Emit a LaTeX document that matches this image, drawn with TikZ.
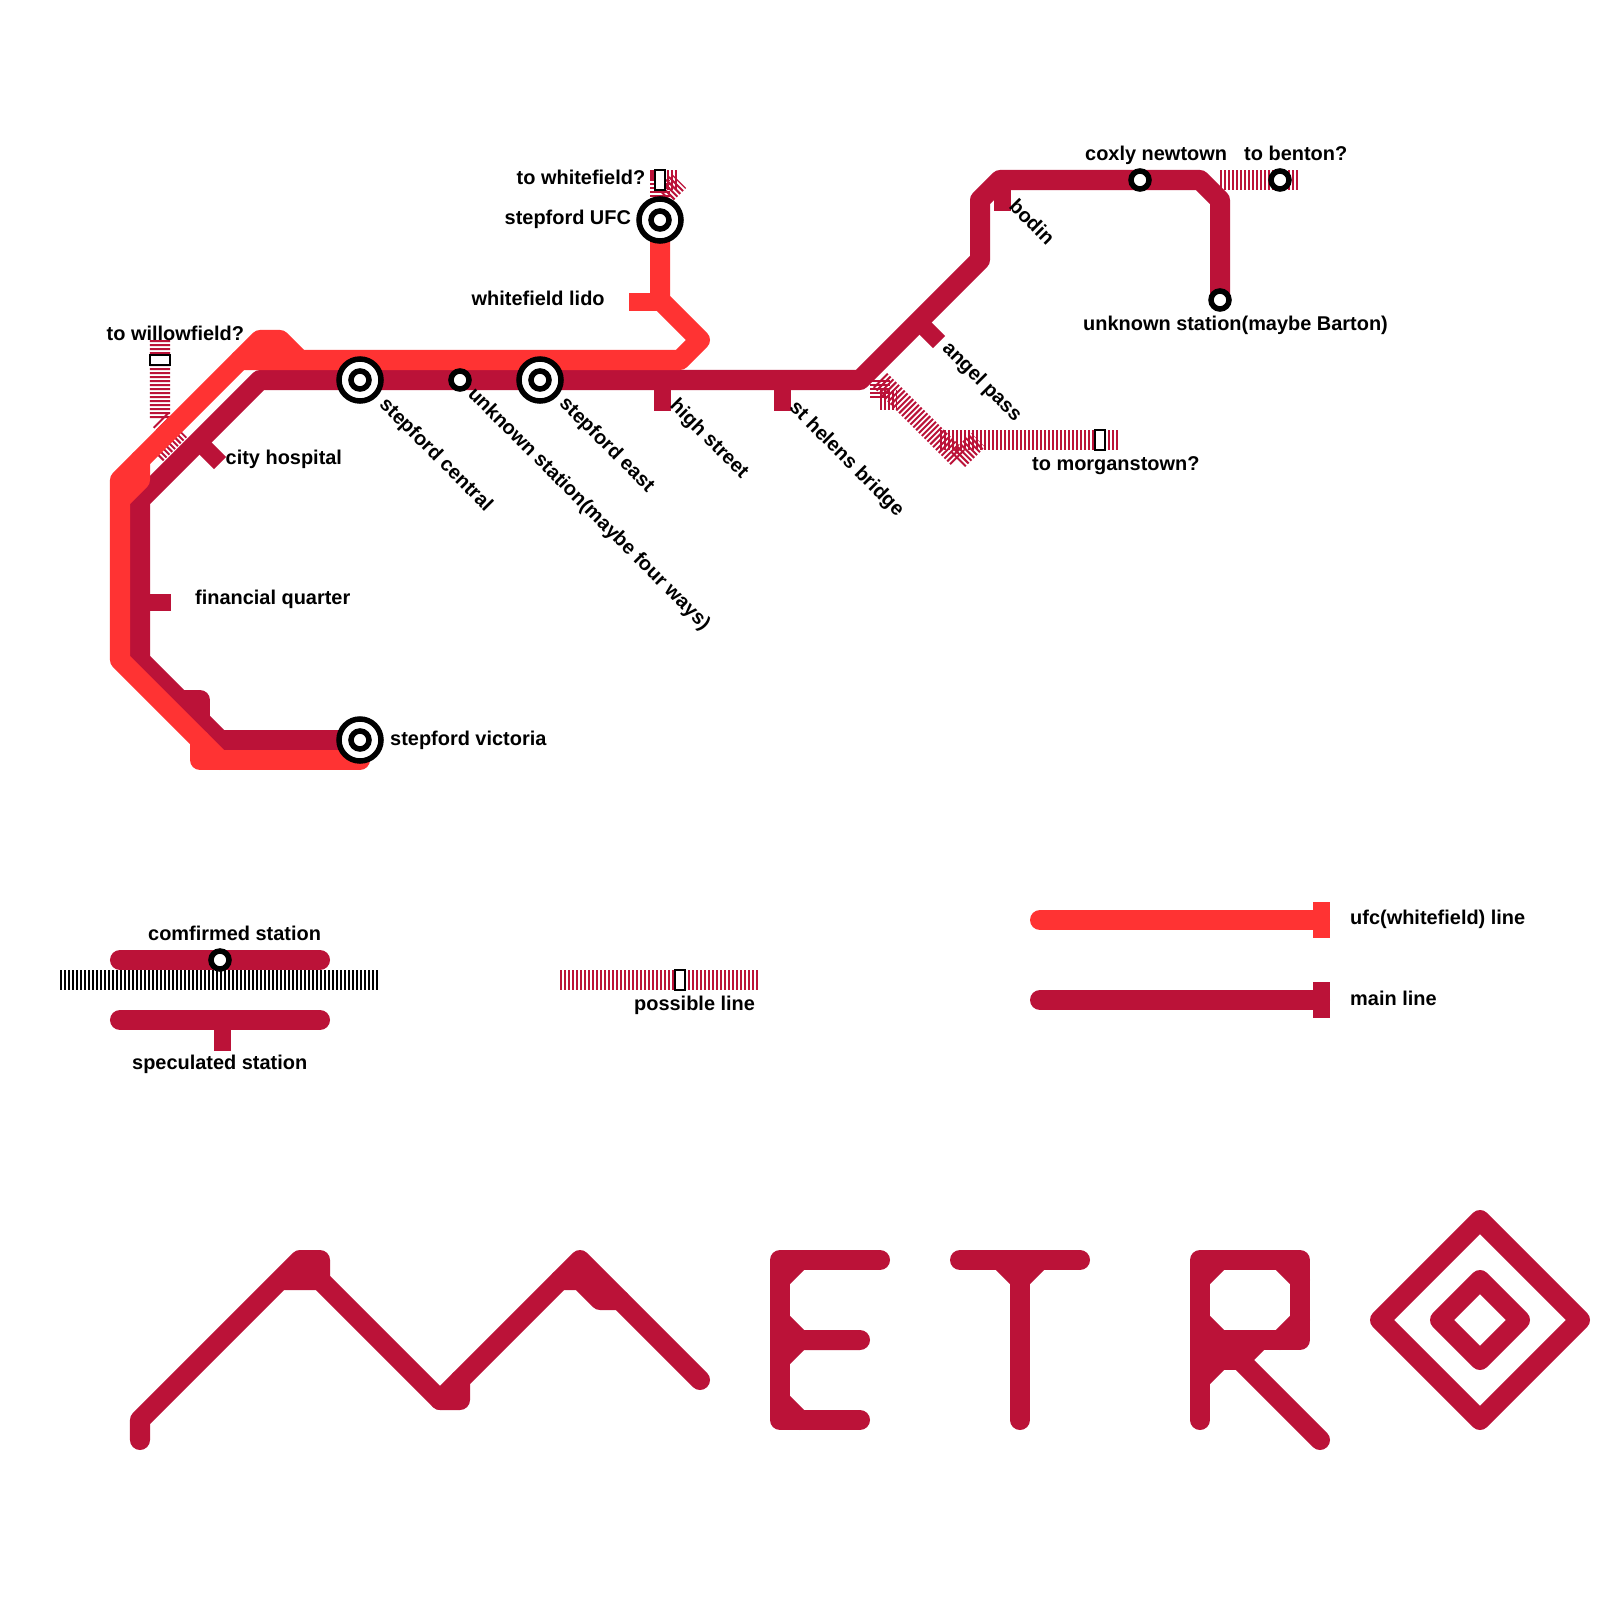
\documentclass[tikz,border=0pt]{standalone}
\usepackage{fontspec}
\setmainfont{Liberation Sans}
\usepackage{tikz}
\usetikzlibrary{positioning}
\definecolor{mainred}{RGB}{187,18,56}
\definecolor{ufcred}{RGB}{255,51,51}
\tikzset{
  mainline/.style={draw=mainred,line width=0.2cm,line join=round,line cap=round},
  ufcline/.style={draw=ufcred,line width=0.2cm,line join=round,line cap=round},
  stub/.style={draw=mainred,line width=0.17cm},
  possible/.style={draw=mainred,line width=0.2cm,dash pattern=on 0.02cm off 0.02cm},
  lbl/.style={anchor=base west,inner sep=0pt,font=\bfseries\fontsize{5.67pt}{7pt}\selectfont},
  dlbl/.style={lbl,rotate=-45},
  bigstation/.style={circle,draw=black,line width=0.055cm,fill=white,minimum size=0.42cm,inner sep=0pt},
  bigcore/.style={circle,draw=black,line width=0.055cm,fill=white,minimum size=0.18cm,inner sep=0pt},
  smallstation/.style={circle,draw=black,line width=0.055cm,fill=white,minimum size=0.18cm,inner sep=0pt},
  maybe/.style={rectangle,draw=black,line width=0.02cm,fill=white,minimum width=0.1cm,minimum height=0.2cm,inner sep=0pt}
}
\begin{document}
\begin{tikzpicture}[x=0.01cm,y=-0.01cm]
\useasboundingbox (0,0) rectangle (1600,1600);
% possible lines
\draw[possible] (160,340) -- (160,420) -- (175,435);
\draw[possible] (156,454) -- (180,430);
\draw[possible] (660,197) -- (660,180) -- (678,180);
\draw[possible] (664,196) -- (679,181);
\draw[possible] (880,380) -- (880,400) -- (897,400);
\draw[possible] (880,380) -- (958,458);
\draw[possible] (940,440) -- (1118,440);
\draw[possible] (958,460) -- (978,440);
\draw[possible] (1220,180) -- (1298,180);
% main line
\draw[mainline] (140,660) -- (220,740) -- (360,740);
\draw[mainline] (180,700) -- (200,700) -- (200,720);
\draw[mainline] (140,660) -- (140,500) -- (260,380) -- (860,380) -- (980,260) -- (980,200) -- (1000,180) -- (1200,180) -- (1220,200) -- (1220,300);
% ufc line
\draw[ufcline] (360,760) -- (200,760) -- (200,740);
\draw[ufcline] (220,760) -- (120,660) -- (120,480) -- (260,340) -- (280,340) -- (300,360);
\draw[ufcline] (240,360) -- (680,360) -- (700,340) -- (660,300) -- (660,220);
\draw[ufcline] (120,500) -- (140,480) -- (140,460);
\draw[ufcline,line width=0.17cm,line cap=butt] (660,302) -- (629,302);
% speculated stations
\draw[stub] (198,441) -- (220,463);
\draw[stub] (140,602) -- (171,602);
\draw[stub] (662,380) -- (662,411);
\draw[stub] (782,380) -- (782,411);
\draw[stub] (918,321) -- (939,342);
\draw[stub] (1002,180) -- (1002,211);
% stations
\foreach \n/\x/\y in {central/360/380,east/540/380,ufc/660/220,victoria/360/740}{
  \node[bigstation] (\n) at (\x,\y) {};
  \node[bigcore] at (\n) {};
}
\foreach \n/\x/\y in {fourways/460/380,coxly/1140/180,benton/1280/180,barton/1220/300}{
  \node[smallstation] (\n) at (\x,\y) {};
}
\node[maybe,minimum width=0.2cm,minimum height=0.1cm] (willow) at (160,360) {};
\node[maybe] (whitef) at (660,180) {};
\node[maybe] (morgan) at (1100,440) {};
% labels
\node[lbl] at (106,340) {to willowfield?};
\node[lbl] at (225,464) {city hospital};
\node[lbl] at (194.5,604) {financial quarter};
\node[lbl] at (389.5,745) {stepford victoria};
\node[lbl] at (504,225) {stepford UFC};
\node[lbl] at (471,305) {whitefield lido};
\node[lbl] at (516,185) {to whitefield?};
\node[lbl] at (1084.5,160) {coxly newtown};
\node[lbl] at (1243.5,160) {to benton?};
\node[lbl] at (1082.5,330) {unknown station(maybe Barton)};
\node[lbl] at (1031.5,470) {to morganstown?};
\node[dlbl] at (378,405) {stepford central};
\node[dlbl] at (466.5,394.5) {unknown station(maybe four ways)};
\node[dlbl] at (558,404) {stepford east};
\node[dlbl] at (668.5,406.5) {high street};
\node[dlbl] at (788,408.5) {st helens bridge};
\node[dlbl] at (941,349) {angel pass};
\node[dlbl] at (1007.5,207) {bodin};
% key
\draw[mainline] (120,960) -- (320,960);
\node[smallstation] (keyst) at (220,960) {};
\node[lbl] at (147.5,940) {comfirmed station};
\draw[possible,draw=black] (60,980) -- (378,980);
\draw[mainline] (120,1020) -- (320,1020);
\draw[stub] (222.5,1020) -- (222.5,1051);
\node[lbl] at (131.5,1069) {speculated station};
\draw[possible] (560,980) -- (758,980);
\node[maybe] (keymaybe) at (680,980) {};
\node[lbl] at (633.5,1010) {possible line};
\draw[ufcline] (1040,920) -- (1320,920);
\draw[ufcline,line width=0.17cm,line cap=butt] (1321,902) -- (1321,938);
\node[lbl] at (1349.5,924) {ufc(whitefield) line};
\draw[mainline] (1040,1000) -- (1320,1000);
\draw[mainline,line width=0.17cm,line cap=butt] (1321,982) -- (1321,1018);
\node[lbl] at (1349.5,1005) {main line};
% logo
\draw[mainline] (140,1440) -- (140,1420) -- (300,1260) -- (320,1260) -- (320,1280) -- (280,1280);
\draw[mainline] (320,1280) -- (440,1400) -- (460,1400) -- (460,1380) -- (580,1260) -- (700,1380);
\draw[mainline] (460,1380) -- (440,1400);
\draw[mainline] (560,1280) -- (580,1280) -- (600,1300) -- (620,1300);
\draw[mainline] (880,1260) -- (780,1260) -- (780,1420) -- (860,1420);
\draw[mainline] (800,1260) -- (780,1280);
\draw[mainline] (780,1320) -- (800,1340) -- (860,1340);
\draw[mainline] (800,1340) -- (780,1360);
\draw[mainline] (780,1400) -- (800,1420);
\draw[mainline] (960,1260) -- (1080,1260);
\draw[mainline] (1000,1260) -- (1020,1280) -- (1040,1260);
\draw[mainline] (1020,1280) -- (1020,1420);
\draw[mainline] (1200,1420) -- (1200,1260) -- (1300,1260) -- (1300,1340) -- (1200,1340);
\draw[mainline] (1220,1260) -- (1200,1280);
\draw[mainline] (1280,1260) -- (1300,1280);
\draw[mainline] (1200,1320) -- (1220,1340);
\draw[mainline] (1300,1320) -- (1280,1340);
\draw[mainline] (1260,1340) -- (1240,1360) -- (1320,1440);
\draw[mainline] (1240,1360) -- (1200,1360);
\draw[mainline] (1220,1360) -- (1200,1380);
\draw[mainline] (1480,1220) -- (1580,1320) -- (1480,1420) -- (1380,1320) -- cycle;
\draw[mainline] (1480,1280) -- (1520,1320) -- (1480,1360) -- (1440,1320) -- cycle;
\end{tikzpicture}
\end{document}
